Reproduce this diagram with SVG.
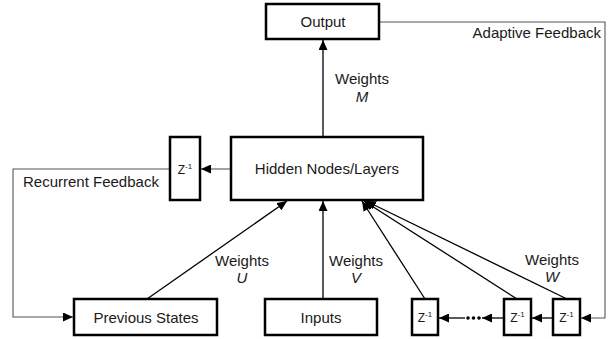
<svg xmlns="http://www.w3.org/2000/svg" width="613" height="339" viewBox="0 0 613 339">
<style>
  .box { fill: #fff; stroke: #000; stroke-width: 2.5; }
  .lbl { font-family: "Liberation Sans", Arial, sans-serif; font-size: 15px; fill: #1a1a1a; }
  .mid { text-anchor: middle; }
  .z { font-family: "Liberation Sans", Arial, sans-serif; font-size: 12px; fill: #1a1a1a; text-anchor: middle; }
  .edge { fill: none; stroke: #000; stroke-width: 1.3; }
  .fb { fill: none; stroke: #555; stroke-width: 1.1; }
  .dot { fill: #000; }
</style>
<defs>
  <marker id="ah" markerUnits="userSpaceOnUse" markerWidth="11" markerHeight="9" refX="10" refY="4.5" orient="auto">
    <path d="M0,0 L10,4.5 L0,9 Z" fill="#000"/>
  </marker>
</defs>

<g id="connectors">
  <!-- Hidden to Output -->
  <line class="edge" x1="323" y1="137" x2="323" y2="40" marker-end="url(#ah)"/>
  <!-- Previous States to Hidden -->
  <line class="edge" x1="147" y1="299" x2="287" y2="201" marker-end="url(#ah)"/>
  <!-- Inputs to Hidden -->
  <line class="edge" x1="323" y1="299" x2="323" y2="201" marker-end="url(#ah)"/>
  <!-- Delay boxes to Hidden -->
  <line class="edge" x1="425" y1="299" x2="362" y2="201" marker-end="url(#ah)"/>
  <line class="edge" x1="517" y1="299" x2="364" y2="201" marker-end="url(#ah)"/>
  <line class="edge" x1="567" y1="299" x2="366" y2="201" marker-end="url(#ah)"/>
  <!-- Hidden to recurrent delay -->
  <line class="fb" x1="231" y1="169" x2="201" y2="169" marker-end="url(#ah)"/>
  <!-- Recurrent feedback -->
  <polyline class="fb" points="170,169 13,169 13,317 73,317" marker-end="url(#ah)"/>
  <!-- Adaptive feedback -->
  <polyline class="fb" points="379,22 605,22 605,318 581,318" marker-end="url(#ah)"/>
  <!-- Delay chain -->
  <line class="edge" x1="553" y1="318" x2="532" y2="318" marker-end="url(#ah)"/>
  <line class="edge" x1="504" y1="318" x2="482" y2="318" marker-end="url(#ah)"/>
  <line class="edge" x1="465" y1="318" x2="439" y2="318" marker-end="url(#ah)"/>
  <circle class="dot" cx="468" cy="318" r="1.8"/>
  <circle class="dot" cx="473.5" cy="318" r="1.8"/>
  <circle class="dot" cx="479" cy="318" r="1.8"/>
</g>

<g id="output">
  <rect class="box" x="266" y="4" width="113" height="35"/>
  <text class="lbl mid" x="323" y="27">Output</text>
</g>

<g id="hidden">
  <rect class="box" x="231" y="137" width="192" height="63"/>
  <text class="lbl mid" x="327" y="174">Hidden Nodes/Layers</text>
</g>

<g id="z-recurrent">
  <rect class="box" x="170" y="137" width="30" height="63"/>
  <text class="z" x="185" y="174">Z<tspan font-size="8" dy="-5">-1</tspan></text>
</g>

<g id="previous-states">
  <rect class="box" x="74" y="299" width="143" height="36"/>
  <text class="lbl mid" x="146" y="323">Previous States</text>
</g>

<g id="inputs">
  <rect class="box" x="265" y="299" width="112" height="36"/>
  <text class="lbl mid" x="321" y="323">Inputs</text>
</g>

<g id="z1">
  <rect class="box" x="412" y="299" width="26" height="36"/>
  <text class="z" x="425" y="322">Z<tspan font-size="8" dy="-5">-1</tspan></text>
</g>
<g id="z2">
  <rect class="box" x="504" y="299" width="27" height="36"/>
  <text class="z" x="517.5" y="322">Z<tspan font-size="8" dy="-5">-1</tspan></text>
</g>
<g id="z3">
  <rect class="box" x="553" y="299" width="27" height="36"/>
  <text class="z" x="566.5" y="322">Z<tspan font-size="8" dy="-5">-1</tspan></text>
</g>

<g id="labels">
  <text class="lbl" x="601" y="38" text-anchor="end">Adaptive Feedback</text>
  <text class="lbl" x="23" y="187">Recurrent Feedback</text>
  <text class="lbl mid" x="362" y="84">Weights</text>
  <text class="lbl mid" x="362" y="102" font-style="italic">M</text>
  <text class="lbl mid" x="242" y="266">Weights</text>
  <text class="lbl mid" x="242" y="283" font-style="italic">U</text>
  <text class="lbl mid" x="356" y="266">Weights</text>
  <text class="lbl mid" x="356" y="283" font-style="italic">V</text>
  <text class="lbl mid" x="552" y="265">Weights</text>
  <text class="lbl mid" x="552" y="282" font-style="italic">W</text>
</g>
</svg>
